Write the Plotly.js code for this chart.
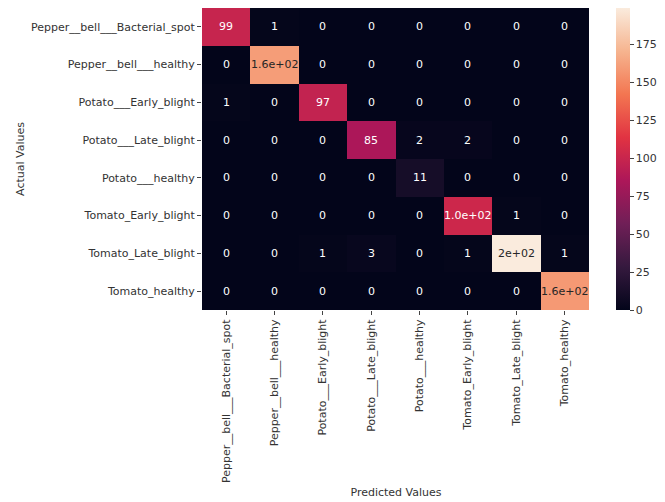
<!DOCTYPE html>
<html>
<head>
<meta charset="utf-8">
<script src="https://cdn.plot.ly/plotly-3.0.1.min.js"></script>
<style>html,body{margin:0;padding:0;background:#fff;}#chart{width:665px;height:502px;}</style>
</head>
<body>
<div id="chart"></div>
<script>
var classes = [
  "Pepper__bell___Bacterial_spot",
  "Pepper__bell___healthy",
  "Potato___Early_blight",
  "Potato___Late_blight",
  "Potato___healthy",
  "Tomato_Early_blight",
  "Tomato_Late_blight",
  "Tomato_healthy"
];
// rows = actual, columns = predicted
var counts = [
  [99, 1, 0, 0, 0, 0, 0, 0],
  [0, 160, 0, 0, 0, 0, 0, 0],
  [1, 0, 97, 0, 0, 0, 0, 0],
  [0, 0, 0, 85, 2, 2, 0, 0],
  [0, 0, 0, 0, 11, 0, 0, 0],
  [0, 0, 0, 0, 0, 102, 1, 0],
  [0, 0, 1, 3, 0, 1, 199, 1],
  [0, 0, 0, 0, 0, 0, 0, 158]
];
// annotation labels as printed in the reference (format .2g)
var cellLabels = [
  ["99", "1", "0", "0", "0", "0", "0", "0"],
  ["0", "1.6e+02", "0", "0", "0", "0", "0", "0"],
  ["1", "0", "97", "0", "0", "0", "0", "0"],
  ["0", "0", "0", "85", "2", "2", "0", "0"],
  ["0", "0", "0", "0", "11", "0", "0", "0"],
  ["0", "0", "0", "0", "0", "1.0e+02", "1", "0"],
  ["0", "0", "1", "3", "0", "1", "2e+02", "1"],
  ["0", "0", "0", "0", "0", "0", "0", "1.6e+02"]
];
var colorbarTicks = [0, 25, 50, 75, 100, 125, 150, 175];

var rocket = [
  [0.0, "#03051A"],
  [0.143, "#35193E"],
  [0.286, "#701F57"],
  [0.429, "#AD1759"],
  [0.571, "#E13342"],
  [0.714, "#F37651"],
  [0.857, "#F6B48F"],
  [1.0, "#FAEBDD"]
];

var vmin = 0;
var vmax = Math.max.apply(null, counts.map(function(r){return Math.max.apply(null, r);}));

function hexToRgb(h){ return [parseInt(h.substr(1,2),16), parseInt(h.substr(3,2),16), parseInt(h.substr(5,2),16)]; }
function colorAt(t){
  for (var k = 1; k < rocket.length; k++) {
    if (t <= rocket[k][0]) {
      var a = rocket[k-1], b = rocket[k];
      var f = (t - a[0]) / (b[0] - a[0]);
      var ca = hexToRgb(a[1]), cb = hexToRgb(b[1]);
      return [0,1,2].map(function(i){ return ca[i] + f*(cb[i]-ca[i]); });
    }
  }
  return hexToRgb(rocket[rocket.length-1][1]);
}
function luminance(rgb){
  var c = rgb.map(function(v){ v = v/255; return v <= 0.03928 ? v/12.92 : Math.pow((v+0.055)/1.055, 2.4); });
  return 0.2126*c[0] + 0.7152*c[1] + 0.0722*c[2];
}

var FS = 11;
var annotations = [];
for (var i = 0; i < classes.length; i++) {
  for (var j = 0; j < classes.length; j++) {
    var lum = luminance(colorAt((counts[i][j] - vmin) / (vmax - vmin)));
    annotations.push({
      x: classes[j], y: classes[i], xref: "x", yref: "y",
      text: cellLabels[i][j], showarrow: false,
      font: {family: "DejaVu Sans", size: FS, color: lum > 0.408 ? "#262626" : "#ffffff"}
    });
  }
}

var trace = {
  type: "heatmap",
  x: classes,
  y: classes,
  z: counts,
  zmin: vmin,
  zmax: vmax,
  colorscale: rocket,
  xgap: 0, ygap: 0,
  hoverinfo: "x+y+z",
  colorbar: {
    thickness: 14,
    len: 1,
    lenmode: "fraction",
    y: 0.5,
    yanchor: "middle",
    x: 1.066,
    xanchor: "left",
    xpad: 0,
    ypad: 0,
    outlinewidth: 0,
    ticks: "outside",
    ticklen: 4,
    tickwidth: 1,
    tickcolor: "#444",
    tickmode: "array",
    tickvals: colorbarTicks,
    ticktext: colorbarTicks.map(String),
    tickfont: {family: "DejaVu Sans", size: FS, color: "#333"}
  }
};

var layout = {
  width: 665,
  height: 502,
  margin: {l: 202, r: 68, t: 8, b: 192},
  paper_bgcolor: "#ffffff",
  plot_bgcolor: "#ffffff",
  xaxis: {
    type: "category",
    tickangle: -90,
    ticks: "outside",
    ticklen: 4,
    tickcolor: "#444",
    showgrid: false,
    zeroline: false,
    showline: false,
    automargin: false,
    tickfont: {family: "DejaVu Sans", size: FS, color: "#333"},
    title: {text: "Predicted Values", font: {family: "DejaVu Sans", size: FS, color: "#333"}, standoff: 6}
  },
  yaxis: {
    type: "category",
    autorange: "reversed",
    ticks: "outside",
    ticklen: 4,
    tickcolor: "#444",
    showgrid: false,
    zeroline: false,
    showline: false,
    automargin: false,
    tickfont: {family: "DejaVu Sans", size: FS, color: "#333"},
    title: {text: "Actual Values", font: {family: "DejaVu Sans", size: FS, color: "#333"}, standoff: 4}
  },
  annotations: annotations,
  showlegend: false
};

Plotly.newPlot("chart", [trace], layout, {displayModeBar: false, staticPlot: true});
</script>
</body>
</html>
